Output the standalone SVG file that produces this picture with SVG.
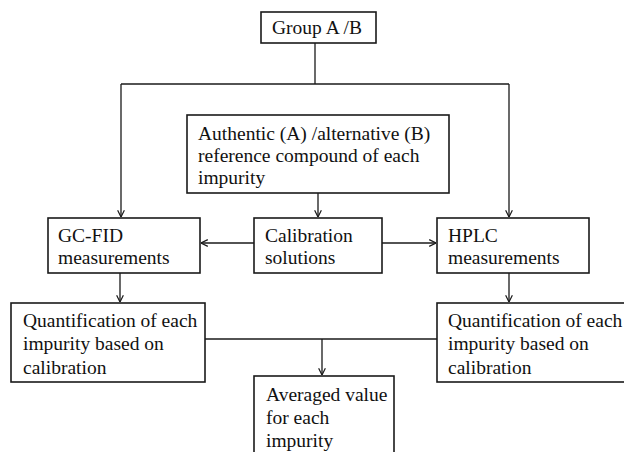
<svg xmlns="http://www.w3.org/2000/svg" width="624" height="452" viewBox="0 0 624 452">
<style>
.box{fill:#fff;stroke:#1a1a1a;stroke-width:1.6}
.t{font-size:19.5px;fill:#111}
.c{fill:none;stroke:#1a1a1a;stroke-width:1.3}
</style>
<defs>
<marker id="ah" markerUnits="userSpaceOnUse" viewBox="0 0 10 10" refX="9.5" refY="5" markerWidth="8" markerHeight="8" orient="auto">
<path d="M1,0.8 L9.5,5 L1,9.2" fill="none" stroke="#1a1a1a" stroke-width="1.5"/>
</marker>
</defs>
<rect width="624" height="452" fill="#fff"/>
<g id="connectors">
<path class="c" d="M315,43 V84"/>
<path class="c" d="M121,84 H509"/>
<path class="c" d="M121,84 V217" marker-end="url(#ah)"/>
<path class="c" d="M509,84 V217" marker-end="url(#ah)"/>
<path class="c" d="M318,193 V217" marker-end="url(#ah)"/>
<path class="c" d="M254,243 H201" marker-end="url(#ah)"/>
<path class="c" d="M382,243 H436" marker-end="url(#ah)"/>
<path class="c" d="M120,273 V302" marker-end="url(#ah)"/>
<path class="c" d="M509,273 V302" marker-end="url(#ah)"/>
<path class="c" d="M205,339 H437"/>
<path class="c" d="M322,339 V375" marker-end="url(#ah)"/>
</g>
<g font-family="'Liberation Serif', serif">
<g id="groupAB">
<rect class="box" x="261" y="12" width="115" height="31"/>
<text class="t" x="272" y="34">Group A /B</text>
</g>
<g id="reference">
<rect class="box" x="187" y="115" width="262" height="78"/>
<text class="t" x="198" y="139.5">Authentic (A) /alternative (B)</text>
<text class="t" x="198" y="161.5">reference compound of each</text>
<text class="t" x="198" y="183.5">impurity</text>
</g>
<g id="gcfid">
<rect class="box" x="48" y="218" width="152" height="55"/>
<text class="t" x="58" y="241.5">GC-FID</text>
<text class="t" x="58" y="264">measurements</text>
</g>
<g id="calibration">
<rect class="box" x="254" y="218" width="128" height="55"/>
<text class="t" x="265" y="241.5">Calibration</text>
<text class="t" x="265" y="264">solutions</text>
</g>
<g id="hplc">
<rect class="box" x="437" y="218" width="152" height="55"/>
<text class="t" x="448" y="241.5">HPLC</text>
<text class="t" x="448" y="264">measurements</text>
</g>
<g id="quantLeft">
<rect class="box" x="11" y="303" width="194" height="79"/>
<text class="t" x="23" y="326.5">Quantification of each</text>
<text class="t" x="23" y="350">impurity based on</text>
<text class="t" x="23" y="373.5">calibration</text>
</g>
<g id="quantRight">
<rect class="box" x="437" y="303" width="200" height="79"/>
<text class="t" x="448" y="326.5">Quantification of each</text>
<text class="t" x="448" y="350">impurity based on</text>
<text class="t" x="448" y="373.5">calibration</text>
</g>
<g id="averaged">
<rect class="box" x="254" y="376" width="140" height="90"/>
<text class="t" x="266" y="400.5">Averaged value</text>
<text class="t" x="266" y="423.5">for each</text>
<text class="t" x="266" y="446.5">impurity</text>
</g>
</g>
</svg>
